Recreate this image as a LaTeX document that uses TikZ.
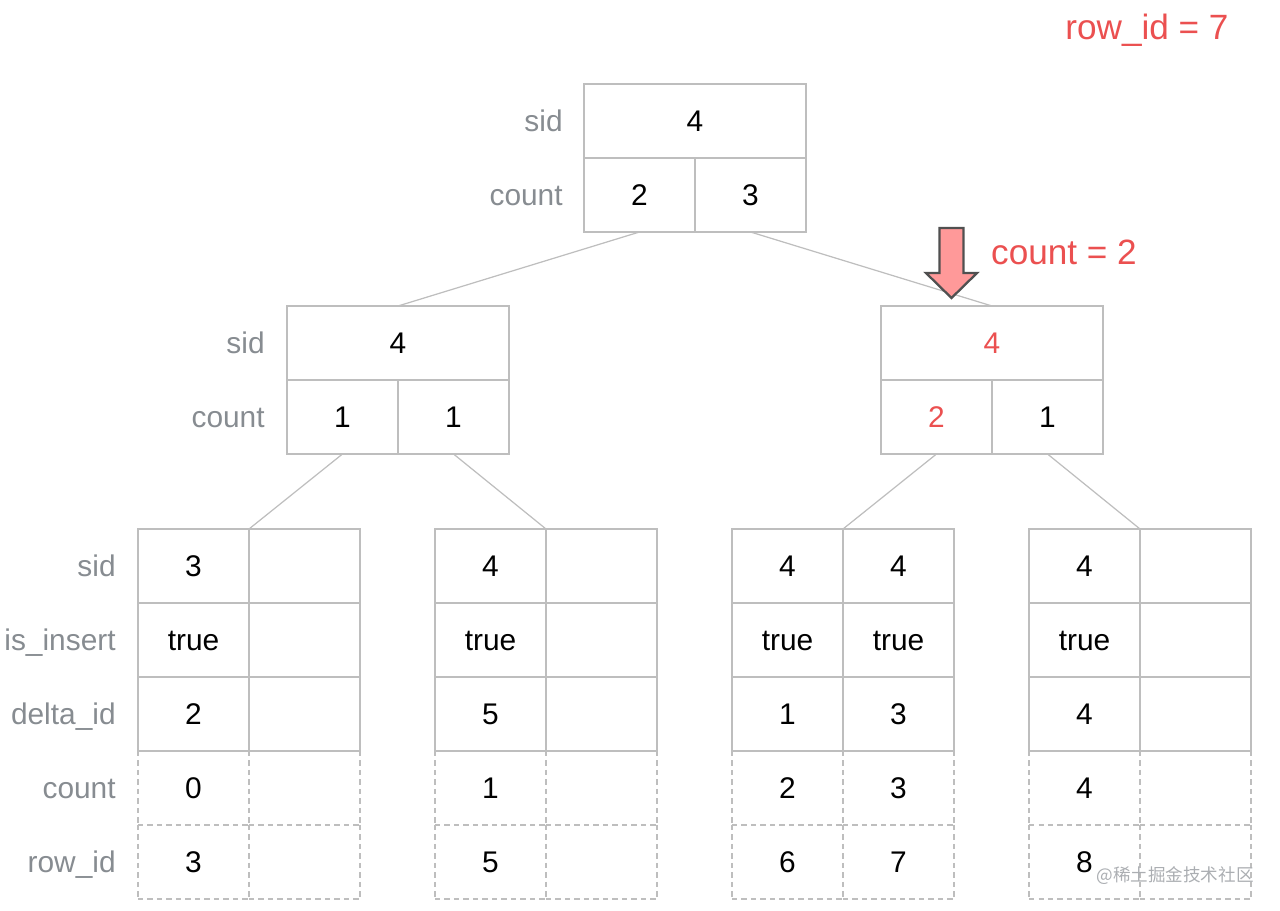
\documentclass[tikz,border=0pt]{standalone}
\usepackage{fontspec}
\setmainfont{Liberation Sans}
\newfontfamily\cjk{Noto Sans CJK SC}
\usepackage{tikz}
\usetikzlibrary{positioning}
\definecolor{LineGray}{RGB}{190,190,190}
\definecolor{LabelGray}{RGB}{135,140,145}
\definecolor{MarkRed}{RGB}{235,80,80}
\definecolor{PtrPink}{RGB}{255,153,153}
\definecolor{PtrEdge}{RGB}{80,80,80}
\tikzset{
  cell/.style={draw=LineGray, line width=0.8pt, minimum width=2.22cm, minimum height=1.48cm,
    inner sep=0pt, outer sep=0pt, text height=12.2pt, text depth=0pt,
    font=\fontsize{17}{20}\selectfont},
  wcell/.style={cell, minimum width=4.44cm},
  dcell/.style={cell, draw=none},
  dline/.style={draw=LineGray, line width=0.8pt, dash pattern=on 3pt off 2.4pt},
  lbl/.style={font=\fontsize{17}{20}\selectfont, text=LabelGray, inner sep=0pt,
    text height=12.2pt, text depth=0pt},
  edge/.style={draw=LineGray, line width=0.7pt},
  hint/.style={font=\fontsize{20}{24}\selectfont, text=MarkRed, inner sep=0pt},
  ptrarrow/.style={draw=PtrEdge, fill=PtrPink, line width=1.3pt, line join=miter},
}

\begin{document}
\begin{tikzpicture}
  \useasboundingbox (0,0) rectangle (25.6,-18.22);
  \foreach \nm/\cx/\cy/\s/\a/\b in {rt/13.90/-2.42/4/2/3, ml/7.96/-6.86/4/1/1,
      mr/19.84/-6.86/{\textcolor{MarkRed}{4}}/{\textcolor{MarkRed}{2}}/1} {
    \node[wcell] (\nm-sid) at (\cx,\cy) {\s};
    \node[cell, anchor=north east] (\nm-c1) at (\nm-sid.south) {\a};
    \node[cell, anchor=north west] (\nm-c2) at (\nm-sid.south) {\b};
  }
  \node[lbl, left=0.42cm of rt-sid] (rt-lsid) {sid};
  \node[lbl, left=0.42cm of rt-c1] (rt-lcnt) {count};
  \node[lbl, left=0.44cm of ml-sid] (ml-lsid) {sid};
  \node[lbl, left=0.44cm of ml-c1] (ml-lcnt) {count};

  \foreach \cx/\vals [count=\j] in {3.87/{3,true,2,0,3}, 6.09/{{},{},{},{},{}},
      9.81/{4,true,5,1,5}, 12.03/{{},{},{},{},{}}, 15.75/{4,true,1,2,6},
      17.97/{4,true,3,3,7}, 21.69/{4,true,4,4,8}, 23.91/{{},{},{},{},{}}} {
    \foreach \v [count=\i from 0] in \vals {
      \ifnum\i>2
        \node[dcell] (lf-\j-\i) at (\cx,{-11.32-1.48*\i}) {\v};
        \draw[dline] (lf-\j-\i.north west) -- (lf-\j-\i.south west);
        \draw[dline] (lf-\j-\i.north east) -- (lf-\j-\i.south east);
        \draw[dline] (lf-\j-\i.south west) -- (lf-\j-\i.south east);
      \else
        \node[cell] (lf-\j-\i) at (\cx,{-11.32-1.48*\i}) {\v};
      \fi
    }
  }
  \foreach \lbl [count=\i from 0] in {sid,is\_insert,delta\_id,count,row\_id}
    \node[lbl, left=0.44cm of lf-1-\i] (lf-l\i) {\lbl};

  \draw[edge] (rt-c1.south) -- (ml-sid.north);
  \draw[edge] (rt-c2.south) -- (mr-sid.north);
  \draw[edge] (ml-c1.south) -- (lf-1-0.north east);
  \draw[edge] (ml-c2.south) -- (lf-3-0.north east);
  \draw[edge] (mr-c1.south) -- (lf-5-0.north east);
  \draw[edge] (mr-c2.south) -- (lf-7-0.north east);

  \draw[ptrarrow] (18.79,-4.56) -- (19.27,-4.56) -- (19.27,-5.46) -- (19.54,-5.46)
    -- (19.03,-5.96) -- (18.52,-5.46) -- (18.79,-5.46) -- cycle;
  \node[hint] (cnt-hint) at (21.28,-5.04) {count = 2};
  \node[hint] (row-hint) at (22.94,-0.60) {row\_id = 7};
  \node[font=\cjk\fontsize{10}{12}\selectfont, text=LabelGray!70] (wm) at (23.50,-17.52) {@稀土掘金技术社区};
\end{tikzpicture}
\end{document}
